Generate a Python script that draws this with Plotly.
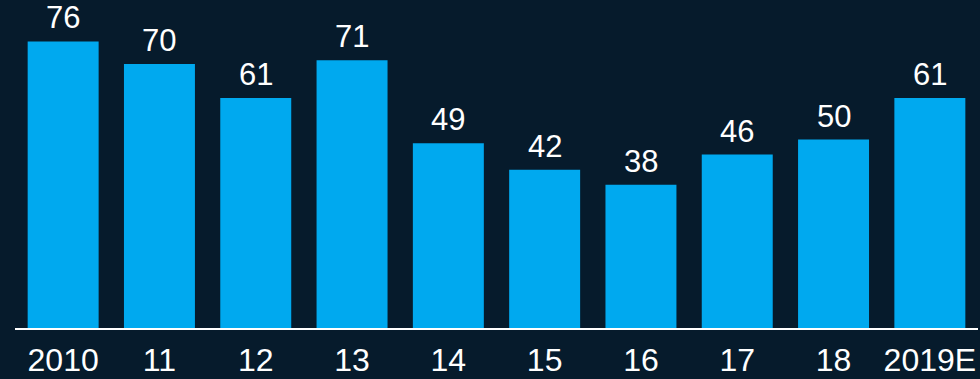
import plotly.graph_objects as go

categories = ["2010", "11", "12", "13", "14", "15", "16", "17", "18", "2019E"]
values = [76, 70, 61, 71, 49, 42, 38, 46, 50, 61]

BG = "#061B2C"
BAR = "#00A9EF"
FONT = "Liberation Sans, Arial, sans-serif"

fig = go.Figure(
    go.Bar(
        x=categories,
        y=values,
        marker=dict(color=BAR, line=dict(width=0)),
        cliponaxis=False,
        hoverinfo="x+y",
    )
)

for i, v in enumerate(values):
    fig.add_annotation(
        x=i, y=v, text=str(v), showarrow=False,
        yanchor="bottom", yshift=4,
        font=dict(family=FONT, size=31, color="white"),
    )

fig.update_layout(
    width=980,
    height=379,
    paper_bgcolor=BG,
    plot_bgcolor=BG,
    margin=dict(l=15, r=2, t=20, b=51),
    bargap=0.263,
    showlegend=False,
    font=dict(family=FONT, color="white"),
    xaxis=dict(
        type="category",
        range=[-0.5, len(categories) - 0.5],
        automargin=False,
        showline=True,
        linecolor="white",
        linewidth=2,
        showgrid=False,
        ticks="",
        tickfont=dict(family=FONT, size=32, color="white"),
        ticklabelstandoff=3,
    ),
    yaxis=dict(
        range=[0, 81.7],
        visible=False,
        showgrid=False,
        zeroline=False,
        automargin=False,
    ),
)

fig.write_html(
    "out.html",
    config={"displayModeBar": False},
    post_script="document.body.style.margin='0';document.body.style.overflow='hidden';",
)
